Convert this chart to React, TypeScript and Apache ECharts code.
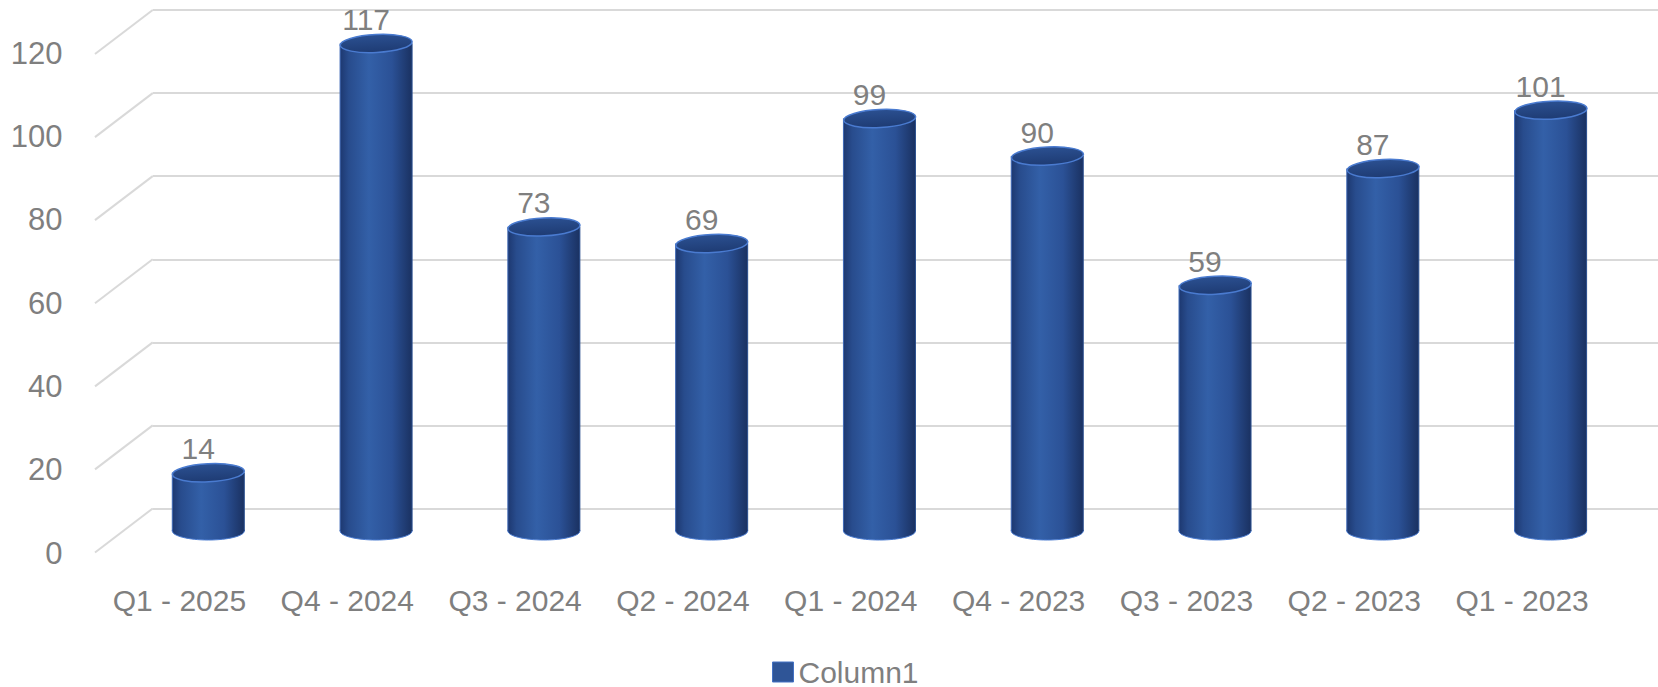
import React, { useEffect, useRef } from "react";
import * as echarts from "echarts";

const categories = ["Q1 - 2025", "Q4 - 2024", "Q3 - 2024", "Q2 - 2024", "Q1 - 2024", "Q4 - 2023", "Q3 - 2023", "Q2 - 2023", "Q1 - 2023"];
const values = [14, 117, 73, 69, 99, 90, 59, 87, 101];
const yTicks = [0, 20, 40, 60, 80, 100, 120];
const seriesName = "Column1";

const FONT = "'Liberation Sans', Arial, sans-serif";
const GRAY = "#7f7f7f";
const GRID = "#d9d9d9";

export default function App() {
  const ref = useRef<HTMLDivElement>(null);
  useEffect(() => {
    document.body.style.margin = "0";
    const chart = echarts.init(ref.current!, undefined, { renderer: "svg" });
    const yBase = { type: "value" as const, min: 0, max: 120, interval: 20 };
    const bodyGrad = () =>
      new echarts.graphic.LinearGradient(0, 0, 1, 0, [
        { offset: 0, color: "#1d3870" },
        { offset: 0.12, color: "#284c8d" },
        { offset: 0.4, color: "#3360a8" },
        { offset: 0.72, color: "#2b5196" },
        { offset: 1, color: "#1a3161" },
      ]);
    chart.setOption({
      animation: false,
      backgroundColor: "#ffffff",
      textStyle: { fontFamily: FONT },
      grid: [
        { left: 152.7, right: 0, top: 10, bottom: 178.5 },
        { left: 95.5, right: 52, top: 53, bottom: 134 },
        { left: 124.4, right: 23.5, top: 31, bottom: 156 },
      ],
      xAxis: [
        { type: "category", data: categories, gridIndex: 0, show: false },
        {
          type: "category",
          data: categories,
          gridIndex: 1,
          axisLine: { show: false },
          axisTick: { show: false },
          axisLabel: { color: GRAY, fontSize: 30, fontFamily: FONT, margin: 32, interval: 0 },
        },
        { type: "category", data: categories, gridIndex: 2, show: false },
      ],
      yAxis: [
        {
          ...yBase,
          gridIndex: 0,
          axisLabel: { show: false },
          axisLine: { show: false },
          axisTick: { show: false },
          splitLine: { lineStyle: { color: GRID, width: 2 } },
        },
        {
          ...yBase,
          gridIndex: 1,
          axisLine: { show: false },
          axisTick: { show: false },
          splitLine: { show: false },
          axisLabel: { color: GRAY, fontSize: 31, fontFamily: FONT, margin: 33 },
        },
        { ...yBase, gridIndex: 2, show: false },
      ],
      legend: {
        data: [seriesName],
        left: 772,
        top: 657,
        icon: "rect",
        itemWidth: 21,
        itemHeight: 20,
        itemGap: 10,
        padding: 0,
        textStyle: { color: GRAY, fontSize: 30, lineHeight: 30, fontFamily: FONT },
        itemStyle: { color: "#2f5597", borderColor: "#4472c4", borderWidth: 1 },
      },
      series: [
        {
          type: "custom",
          name: "depthLines",
          xAxisIndex: 0,
          yAxisIndex: 0,
          silent: true,
          data: yTicks.map((v) => [0, v]),
          encode: { x: 0, y: 1 },
          renderItem: (params: any, api: any) => {
            const p = api.coord([0, api.value(1)]);
            const x0 = params.coordSys.x;
            return {
              type: "line",
              shape: { x1: x0, y1: p[1], x2: x0 - 57.7, y2: p[1] + 44 },
              style: { stroke: GRID, lineWidth: 2 },
            };
          },
        },
        {
          type: "custom",
          name: seriesName,
          xAxisIndex: 2,
          yAxisIndex: 2,
          itemStyle: { color: "#2f5597" },
          data: values.map((v, i) => [i, v]),
          encode: { x: 0, y: 1 },
          renderItem: (params: any, api: any) => {
            const top = api.coord([api.value(0), api.value(1)]);
            const base = api.coord([api.value(0), 0]);
            const rx = 36;
            const ry = 9;
            const cx = top[0];
            return {
              type: "group",
              children: [
                {
                  type: "ellipse",
                  shape: { cx, cy: base[1], rx, ry },
                  style: { fill: bodyGrad(), stroke: "#4a7bd0", lineWidth: 1 },
                },
                {
                  type: "rect",
                  shape: { x: cx - rx, y: top[1], width: rx * 2, height: base[1] - top[1] },
                  style: { fill: bodyGrad() },
                },
                {
                  type: "line",
                  shape: { x1: cx - rx, y1: top[1], x2: cx - rx, y2: base[1] },
                  style: { stroke: "#3d68b5", lineWidth: 1 },
                },
                {
                  type: "line",
                  shape: { x1: cx + rx, y1: top[1], x2: cx + rx, y2: base[1] },
                  style: { stroke: "#2a4f8f", lineWidth: 1 },
                },
                {
                  type: "ellipse",
                  shape: { cx, cy: top[1], rx, ry },
                  rotation: 0.05,
                  originX: cx,
                  originY: top[1],
                  style: {
                    fill: new echarts.graphic.LinearGradient(0, 0, 0, 1, [
                      { offset: 0, color: "#2b5091" },
                      { offset: 1, color: "#1e3b73" },
                    ]),
                    stroke: "#4a7bd0",
                    lineWidth: 1.5,
                  },
                },
                {
                  type: "text",
                  x: cx - 10,
                  y: top[1] - 24,
                  style: {
                    text: String(api.value(1)),
                    fill: GRAY,
                    fontSize: 30,
                    fontFamily: FONT,
                    align: "center",
                    verticalAlign: "middle",
                  },
                },
              ],
            };
          },
        },
      ],
    });
    return () => chart.dispose();
  }, []);
  return <div ref={ref} style={{ position: "absolute", left: 0, top: 0, width: 1658, height: 687 }} />;
}
